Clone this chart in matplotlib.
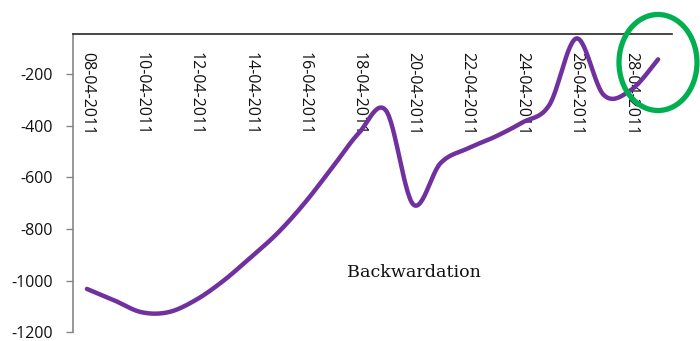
import numpy as np
import matplotlib
matplotlib.use("Agg")
import matplotlib.pyplot as plt
from matplotlib.patches import Ellipse

# Daily spread values, 08-04-2011 .. 29-04-2011
dates = ["08-04-2011", "09-04-2011", "10-04-2011", "11-04-2011", "12-04-2011",
         "13-04-2011", "14-04-2011", "15-04-2011", "16-04-2011", "17-04-2011",
         "18-04-2011", "19-04-2011", "20-04-2011", "21-04-2011", "22-04-2011",
         "23-04-2011", "24-04-2011", "25-04-2011", "26-04-2011", "27-04-2011",
         "28-04-2011", "29-04-2011"]
spread = [-1032, -1076, -1122, -1122, -1075, -1002, -912, -817, -700, -565,
          -428, -342, -705, -545, -488, -443, -388, -320, -62, -281,
          -262, -143]

y_ticks = [-200, -400, -600, -800, -1000, -1200]
label_dates = dates[::2]


def smooth_curve(xs, ys, steps=30):
    """Cubic Bezier smoothing through every point (Catmull-Rom style)."""
    xs = np.asarray(xs, float)
    ys = np.asarray(ys, float)
    n = len(xs)
    px = np.concatenate([[xs[0]], xs, [xs[-1]]])
    py = np.concatenate([[ys[0]], ys, [ys[-1]]])
    out_x, out_y = [], []
    t = np.linspace(0, 1, steps)
    for i in range(n - 1):
        p0x, p0y = px[i + 1], py[i + 1]
        p3x, p3y = px[i + 2], py[i + 2]
        c1x = p0x + (px[i + 2] - px[i]) / 6
        c1y = p0y + (py[i + 2] - py[i]) / 6
        c2x = p3x - (px[i + 3] - px[i + 1]) / 6
        c2y = p3y - (py[i + 3] - py[i + 1]) / 6
        bx = ((1 - t) ** 3 * p0x + 3 * (1 - t) ** 2 * t * c1x
              + 3 * (1 - t) * t ** 2 * c2x + t ** 3 * p3x)
        by = ((1 - t) ** 3 * p0y + 3 * (1 - t) ** 2 * t * c1y
              + 3 * (1 - t) * t ** 2 * c2y + t ** 3 * p3y)
        out_x.append(bx)
        out_y.append(by)
    return np.concatenate(out_x), np.concatenate(out_y)


fig = plt.figure(figsize=(7.0, 3.41), dpi=100)
ax = fig.add_axes([73.3 / 700, 1 - 332.3 / 341, (671.7 - 73.3) / 700, (332.3 - 34.3) / 341])

idx = np.arange(len(spread))
sx, sy = smooth_curve(idx, spread)
ax.plot(sx, sy, color="#7030A0", lw=3.2, solid_capstyle="round", zorder=3)

ax.set_xlim(-0.5, len(spread) - 0.5)
ax.set_ylim(-1200, -46)

# value axis
ax.set_yticks(y_ticks)
ax.set_yticklabels([str(v) for v in y_ticks], fontfamily="Open Sans", fontsize=11.5, color="#111111")
ax.tick_params(axis="y", direction="out", length=5, width=1, color="#868686", pad=9.5)

# category axis drawn along the top, labels hanging below it
ax.set_xticks(idx[::2])
ax.set_xticklabels(label_dates, rotation=270, fontfamily="Open Sans", fontsize=11.5, color="#111111",
                   va="top", ha="center")
ax.tick_params(axis="x", bottom=False, top=False, labelbottom=False, labeltop=True, pad=-16)

for side in ("right", "bottom"):
    ax.spines[side].set_visible(False)
ax.spines["left"].set_color("#868686")
ax.spines["left"].set_linewidth(1.2)
ax.spines["top"].set_color("#262626")
ax.spines["top"].set_linewidth(1.2)
ax.patch.set_alpha(0)

ax.text(0.570, 0.199, "Backwardation", transform=ax.transAxes, ha="center", va="center",
        fontfamily="DejaVu Serif", fontsize=12.6, color="#111111")

# highlight ring around the latest values
fig.patches.append(Ellipse((658 / 700, 1 - 62.5 / 341), 78 / 700, 96 / 341,
                           transform=fig.transFigure, fill=False,
                           edgecolor="#00B050", lw=3.8, zorder=5))

fig.savefig("out.png", dpi=100)
